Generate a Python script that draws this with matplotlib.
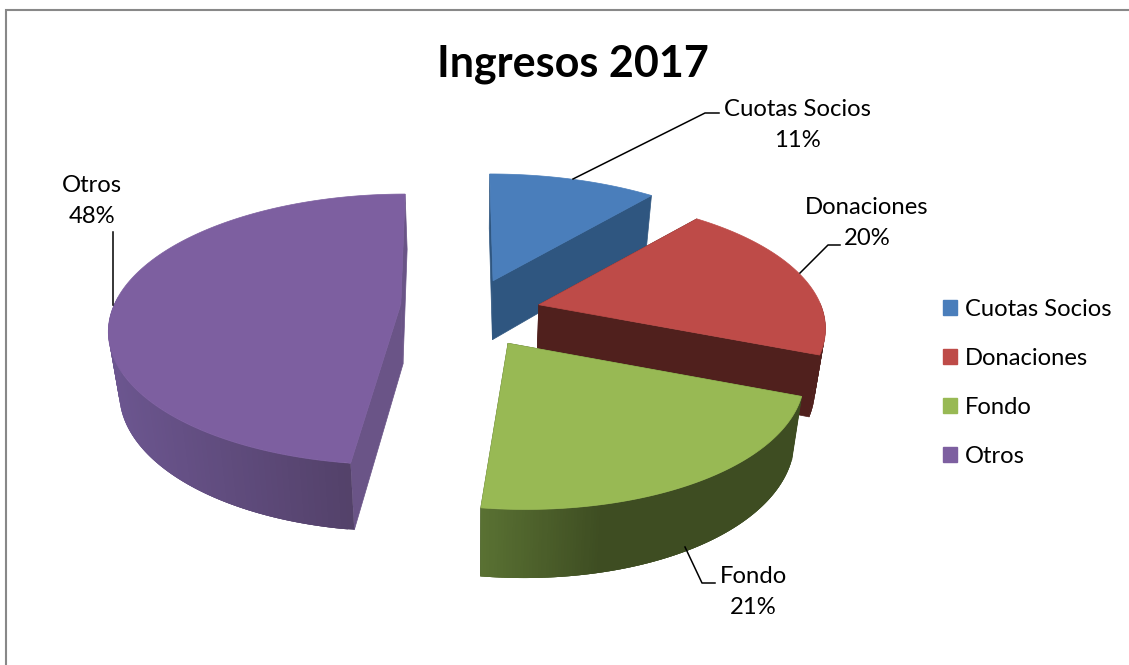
import numpy as np
import matplotlib
matplotlib.use("Agg")
import matplotlib.pyplot as plt
from matplotlib.colors import to_rgb
from matplotlib.patches import Polygon, Patch

# ---- data ----
title = "Ingresos 2017"
categories = ["Cuotas Socios", "Donaciones", "Fondo", "Otros"]
values = [11, 20, 21, 48]

# ---- style / layout ----
top_colors = ["#4a7ebb", "#be4b48", "#98b954", "#7d5fa0"]
side_colors = ["#2f5680", "#50201d", "#3f4f22", "#6a5487"]
wall_left = ["#2f5680", "#50201d", "#5a7233", "#6c5690"]
wall_right = ["#2f5680", "#50201d", "#3e4d22", "#4e3d62"]
CX, CY, RX, KY, PERSP, EXPL = 473, 306, 293, 134, 0.187, 0.22
SHRINK = 0.97
# per-slice fine tuning of the projected face: shift x, shift y, scale x, scale y, shear
tune = [(-1, 1.5, 1.02, 1.015, 0.0),
        (4, 6, 0.972, 0.97, -0.093),
        (1, 11, 0.947, 0.93, 0.055),
        (-8, 0, 0.98, 0.98, 0.05)]
label_font = ["Lato", "DejaVu Sans"]

fig = plt.figure(figsize=(11.29, 6.65), dpi=100, facecolor="white")
ax = fig.add_axes([0, 0, 1, 1])
ax.set_xlim(0, 1129)
ax.set_ylim(665, 0)
ax.axis("off")


def project(theta, r, ex, ey):
    X = r * np.sin(theta) + ex
    Y = -r * np.cos(theta) + ey
    s = 1 / (1 - PERSP * Y)
    return CX + RX * X * s, CY + KY * Y * s, s


def lower(x, y, s):
    return CX + (x - CX) * SHRINK, y + 30 + 30 * s


total = sum(values)
fracs = np.array(values) / total
ends = np.cumsum(fracs) * 2 * np.pi
starts = ends - fracs * 2 * np.pi
mids = (starts + ends) / 2


def draw_slice(i):
    a0, a1 = starts[i], ends[i]
    ex, ey = EXPL * np.sin(mids[i]), -EXPL * np.cos(mids[i])
    th = np.linspace(a0, a1, 160)
    ax_, ay_, as_ = project(th, 1.0, ex, ey)
    x0, y0, s0 = project(0.0, 0.0, ex, ey)
    sfx, sfy, scx, scy, shear = tune[i]
    dx, dy = ax_ - x0, ay_ - y0
    ax_ = x0 + sfx + scx * dx + shear * dy
    ay_ = y0 + sfy + scy * dy
    x0, y0 = x0 + sfx, y0 + sfy
    bx0, by0 = lower(x0, y0, s0)
    # inner walls, far one first
    for k in (-1, 0) if i != 0 else (0, -1):
        bx, by = lower(ax_[k], ay_[k], as_[k])
        ax.add_patch(Polygon([(x0, y0), (ax_[k], ay_[k]), (bx, by), (bx0, by0)],
                             fc=side_colors[i], ec=side_colors[i], lw=0.5))
    # outer wall with a left-to-right shade
    bxs, bys = lower(ax_, ay_, as_)
    c0, c1 = np.array(to_rgb(wall_left[i])), np.array(to_rgb(wall_right[i]))
    xmin, xmax = ax_.min(), ax_.max()
    visible = [j for j in range(len(th) - 1)
               if np.cos((th[j] + th[j + 1]) / 2) <= 0.02]
    for j in visible:
        t = (ax_[j] - xmin) / max(xmax - xmin, 1)
        if i == 2:
            t = min(1.0, t * 2.6)
        col = c0 + (c1 - c0) * t
        j2 = min(j + 3, len(th) - 1)
        idx = np.arange(j, j2 + 1)
        poly = np.vstack([np.column_stack([ax_[idx], ay_[idx]]),
                          np.column_stack([bxs[idx], bys[idx]])[::-1]])
        ax.add_patch(Polygon(poly, fc=col, ec="none", lw=0))
    # top face
    pts = np.vstack([[x0, y0], np.column_stack([ax_, ay_])])
    ax.add_patch(Polygon(pts, fc=top_colors[i], ec=top_colors[i], lw=0.5))


for i in (0, 1, 3, 2):
    draw_slice(i)

# frame of the chart area
ax.plot([5.5, 5.5, 1129], [665, 9.5, 9.5], color="#888888", lw=1.5,
        solid_joinstyle="miter")

ax.text(572.5, 64, title, ha="center", va="center", fontsize=31,
        fontweight="bold", family=label_font, color="black")

# data labels with leaders
label_pos = [(797, 125), (867, 223), (753, 592), (92, 201)]
leaders = [[(573, 179), (705, 113), (719, 113)],
           [(800, 273), (828, 245), (840, 245)],
           [(685, 547), (702, 583), (715, 583)],
           [(113, 305), (113, 232)]]
for name, v, p, l in zip(categories, values, label_pos, leaders):
    ax.text(p[0], p[1], f"{name}\n{v}%", ha="center", va="center", fontsize=17.2,
            family=label_font, color="black", linespacing=1.58)
    xs, ys = zip(*l)
    ax.plot(xs, ys, color="black", lw=1.1)

handles = [Patch(fc=c, ec=c, label=n) for c, n in zip(top_colors, categories)]
ax.legend(handles=handles, loc="upper left", bbox_to_anchor=(943, 298.5),
          bbox_transform=ax.transData, frameon=False,
          prop={"family": label_font, "size": 17.1},
          handlelength=0.61, handleheight=0.61, handletextpad=0.3,
          labelspacing=1.185, borderpad=0, borderaxespad=0)

fig.savefig("out.png", dpi=100, facecolor="white")
